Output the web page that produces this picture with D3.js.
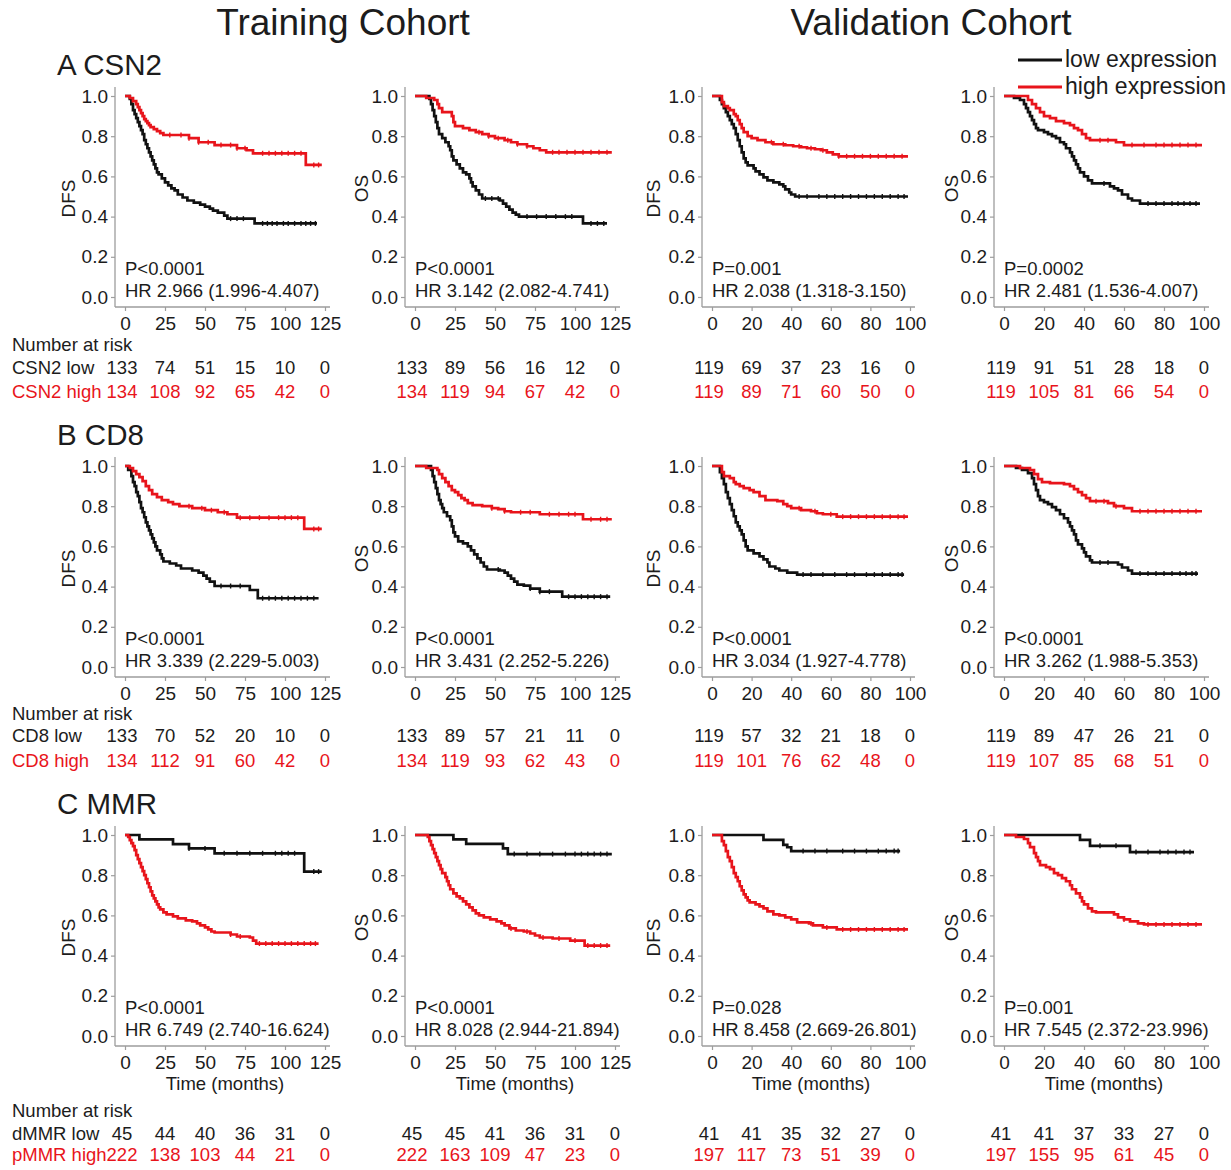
<!DOCTYPE html>
<html>
<head>
<meta charset="utf-8">
<script src="https://cdn.jsdelivr.net/npm/d3@7"></script>
<style>
  body { margin: 0; background: #fff; }
  svg { display: block; font-family: "Liberation Sans", Arial, sans-serif; }
</style>
</head>
<body>
<svg id="km" width="1231" height="1170"></svg>
<script>
// ---- labels
const cohorts = ["Training Cohort", "Validation Cohort"];
const markerTitles = ["A CSN2", "B CD8", "C MMR"];
const endpoints = ["DFS", "OS", "DFS", "OS"];
const legendLabels = ["low expression", "high expression"];
const riskLabels = [["CSN2 low", "CSN2 high"], ["CD8 low", "CD8 high"], ["dMMR low", "pMMR high"]];
const trainTicks = [0, 25, 50, 75, 100, 125];
const valTicks = [0, 20, 40, 60, 80, 100];
const yTicks = [0, 0.2, 0.4, 0.6, 0.8, 1.0];

const pLabels = [
  "P<0.0001", "P<0.0001", "P=0.001", "P=0.0002",
  "P<0.0001", "P<0.0001", "P<0.0001", "P<0.0001",
  "P<0.0001", "P<0.0001", "P=0.028", "P=0.001"
];
const hrLabels = [
  "HR 2.966 (1.996-4.407)", "HR 3.142 (2.082-4.741)", "HR 2.038 (1.318-3.150)", "HR 2.481 (1.536-4.007)",
  "HR 3.339 (2.229-5.003)", "HR 3.431 (2.252-5.226)", "HR 3.034 (1.927-4.778)", "HR 3.262 (1.988-5.353)",
  "HR 6.749 (2.740-16.624)", "HR 8.028 (2.944-21.894)", "HR 8.458 (2.669-26.801)", "HR 7.545 (2.372-23.996)"
];

// ---- number at risk
const riskLow = [
  [133, 74, 51, 15, 10, 0], [133, 89, 56, 16, 12, 0], [119, 69, 37, 23, 16, 0], [119, 91, 51, 28, 18, 0],
  [133, 70, 52, 20, 10, 0], [133, 89, 57, 21, 11, 0], [119, 57, 32, 21, 18, 0], [119, 89, 47, 26, 21, 0],
  [45, 44, 40, 36, 31, 0], [45, 45, 41, 36, 31, 0], [41, 41, 35, 32, 27, 0], [41, 41, 37, 33, 27, 0]
];
const riskHigh = [
  [134, 108, 92, 65, 42, 0], [134, 119, 94, 67, 42, 0], [119, 89, 71, 60, 50, 0], [119, 105, 81, 66, 54, 0],
  [134, 112, 91, 60, 42, 0], [134, 119, 93, 62, 43, 0], [119, 101, 76, 62, 48, 0], [119, 107, 85, 68, 51, 0],
  [222, 138, 103, 44, 21, 0], [222, 163, 109, 47, 23, 0], [197, 117, 73, 51, 39, 0], [197, 155, 95, 61, 45, 0]
];

// ---- KM curves [month, survival]
const csn2DfsTrLow = [[0,1],[3,0.985],[4,0.96],[5,0.93],[6,0.91],[7,0.89],[8,0.87],[9,0.85],[10,0.83],[11,0.81],[12,0.78],[13,0.76],[14,0.74],[15,0.72],[16,0.70],[17,0.68],[18,0.66],[19,0.64],[20,0.62],[21,0.61],[23,0.59],[25,0.57],[27,0.555],[29,0.54],[31,0.53],[33,0.51],[36,0.495],[39,0.48],[43,0.47],[47,0.46],[50,0.45],[53,0.44],[55,0.43],[58,0.42],[62,0.405],[64,0.39],[81,0.366],[120,0.366]];
const csn2DfsTrHigh = [[0,1],[3,0.99],[5,0.975],[7,0.96],[8,0.945],[9,0.93],[10,0.915],[11,0.9],[12,0.885],[13,0.875],[14,0.865],[15,0.855],[16,0.845],[18,0.835],[20,0.825],[22,0.815],[24,0.806],[40,0.79],[46,0.77],[56,0.756],[70,0.74],[76,0.73],[80,0.715],[113,0.657],[123,0.657]];
const csn2OsTrLow = [[0,1],[9,0.985],[10,0.96],[11,0.93],[12,0.9],[13,0.87],[14,0.84],[15,0.81],[17,0.79],[19,0.77],[21,0.75],[22,0.73],[23,0.7],[24,0.68],[26,0.66],[28,0.64],[30,0.62],[32,0.61],[34,0.59],[35,0.57],[36,0.55],[38,0.53],[40,0.51],[42,0.49],[53,0.48],[55,0.465],[57,0.45],[59,0.435],[61,0.42],[63,0.41],[65,0.40],[105,0.366],[120,0.366]];
const csn2OsTrHigh = [[0,1],[7,0.99],[12,0.98],[14,0.96],[15,0.94],[17,0.92],[23,0.9],[24,0.87],[25,0.85],[30,0.84],[34,0.83],[38,0.82],[42,0.81],[46,0.8],[50,0.79],[56,0.78],[60,0.77],[64,0.76],[70,0.75],[74,0.74],[78,0.73],[82,0.72],[123,0.72]];
const csn2DfsValLow = [[0,1],[4,0.98],[5,0.96],[6,0.94],[7,0.92],[8,0.9],[9,0.88],[10,0.86],[11,0.84],[12,0.81],[13,0.78],[14,0.75],[15,0.72],[16,0.69],[17,0.67],[18,0.655],[21,0.64],[22,0.625],[24,0.61],[26,0.595],[28,0.58],[31,0.57],[34,0.56],[36,0.55],[37,0.535],[39,0.52],[40,0.51],[42,0.5],[99,0.5]];
const csn2DfsValHigh = [[0,1],[5,0.97],[6,0.95],[8,0.94],[9,0.93],[11,0.91],[12,0.9],[13,0.88],[14,0.86],[15,0.84],[16,0.82],[18,0.8],[20,0.79],[23,0.78],[27,0.77],[31,0.76],[37,0.755],[41,0.75],[45,0.745],[48,0.74],[52,0.735],[55,0.73],[58,0.72],[61,0.71],[64,0.70],[99,0.70]];
const csn2OsValLow = [[0,1],[5,0.99],[8,0.98],[10,0.96],[11,0.94],[12,0.92],[13,0.9],[14,0.88],[15,0.86],[16,0.84],[17,0.83],[20,0.82],[22,0.81],[24,0.8],[26,0.79],[28,0.77],[30,0.76],[31,0.74],[33,0.72],[34,0.70],[35,0.68],[36,0.66],[37,0.64],[38,0.62],[40,0.60],[42,0.58],[44,0.565],[53,0.55],[55,0.54],[57,0.53],[59,0.51],[62,0.49],[64,0.48],[68,0.465],[98,0.465]];
const csn2OsValHigh = [[0,1],[12,0.98],[14,0.96],[16,0.94],[18,0.92],[20,0.9],[23,0.89],[26,0.875],[30,0.865],[33,0.855],[35,0.84],[37,0.83],[39,0.81],[41,0.79],[43,0.78],[56,0.77],[60,0.756],[99,0.756]];

const cd8DfsTrLow = [[0,1],[2,0.98],[4,0.95],[5,0.92],[6,0.9],[7,0.87],[8,0.85],[9,0.82],[10,0.79],[11,0.77],[12,0.745],[13,0.72],[14,0.70],[15,0.68],[16,0.66],[17,0.64],[18,0.62],[19,0.60],[20,0.58],[22,0.56],[23,0.54],[24,0.525],[28,0.515],[32,0.505],[35,0.49],[42,0.48],[46,0.47],[49,0.455],[51,0.44],[53,0.425],[56,0.403],[78,0.383],[83,0.342],[121,0.342]];
const cd8DfsTrHigh = [[0,1],[3,0.99],[5,0.975],[7,0.96],[9,0.945],[11,0.925],[13,0.9],[15,0.88],[17,0.86],[20,0.845],[23,0.83],[27,0.82],[30,0.81],[34,0.80],[42,0.79],[50,0.78],[58,0.77],[64,0.76],[70,0.743],[112,0.687],[123,0.687]];
const cd8OsTrLow = [[0,1],[10,0.98],[11,0.95],[12,0.92],[13,0.89],[14,0.86],[15,0.83],[16,0.81],[17,0.79],[18,0.77],[20,0.75],[22,0.73],[23,0.70],[24,0.67],[25,0.65],[27,0.625],[30,0.615],[33,0.6],[35,0.58],[37,0.56],[39,0.54],[41,0.52],[43,0.50],[45,0.485],[53,0.48],[56,0.47],[58,0.455],[60,0.44],[62,0.425],[64,0.41],[68,0.405],[72,0.39],[78,0.375],[92,0.35],[122,0.35]];
const cd8OsTrHigh = [[0,1],[7,0.99],[14,0.98],[15,0.96],[17,0.94],[19,0.92],[21,0.9],[23,0.88],[25,0.87],[27,0.855],[29,0.84],[31,0.83],[33,0.815],[36,0.805],[42,0.8],[48,0.79],[52,0.785],[56,0.775],[60,0.77],[78,0.76],[105,0.735],[123,0.735]];
const cd8DfsValLow = [[0,1],[4,0.97],[5,0.94],[6,0.91],[7,0.87],[8,0.84],[9,0.81],[10,0.78],[11,0.75],[12,0.72],[13,0.70],[14,0.68],[15,0.66],[16,0.63],[17,0.60],[18,0.58],[21,0.565],[24,0.55],[26,0.535],[28,0.52],[29,0.50],[32,0.49],[34,0.48],[38,0.47],[43,0.46],[97,0.46]];
const cd8DfsValHigh = [[0,1],[5,0.97],[6,0.95],[9,0.94],[11,0.92],[12,0.91],[14,0.9],[16,0.89],[19,0.88],[21,0.87],[24,0.85],[27,0.83],[33,0.825],[36,0.81],[38,0.8],[40,0.79],[45,0.78],[50,0.775],[53,0.765],[56,0.76],[63,0.748],[99,0.748]];
const cd8OsValLow = [[0,1],[6,0.99],[9,0.98],[12,0.965],[14,0.94],[15,0.91],[16,0.88],[17,0.85],[18,0.83],[20,0.82],[22,0.81],[24,0.795],[26,0.78],[28,0.76],[30,0.74],[32,0.72],[33,0.70],[34,0.68],[35,0.66],[36,0.63],[37,0.61],[39,0.59],[40,0.57],[41,0.55],[43,0.53],[44,0.52],[57,0.51],[59,0.495],[62,0.48],[64,0.465],[97,0.465]];
const cd8OsValHigh = [[0,1],[8,0.99],[13,0.98],[15,0.96],[17,0.935],[19,0.92],[23,0.915],[30,0.91],[33,0.9],[35,0.885],[37,0.87],[39,0.855],[41,0.84],[43,0.825],[52,0.815],[55,0.80],[60,0.79],[64,0.775],[99,0.775]];

const mmrDfsTrLow = [[0,1],[9,0.978],[30,0.955],[40,0.933],[56,0.909],[112,0.818],[123,0.818]];
const mmrDfsTrHigh = [[0,1],[2,0.99],[3,0.975],[4,0.96],[5,0.945],[6,0.925],[7,0.9],[8,0.88],[9,0.86],[10,0.84],[11,0.82],[12,0.80],[13,0.78],[14,0.76],[15,0.74],[16,0.72],[17,0.70],[18,0.685],[19,0.67],[20,0.655],[21,0.64],[22,0.63],[24,0.615],[26,0.605],[30,0.595],[33,0.585],[38,0.575],[42,0.57],[45,0.56],[47,0.55],[50,0.54],[52,0.53],[54,0.52],[56,0.515],[66,0.505],[70,0.495],[78,0.49],[80,0.475],[82,0.46],[121,0.46]];
const mmrOsTrLow = [[0,1],[24,0.978],[32,0.956],[55,0.933],[58,0.905],[123,0.905]];
const mmrOsTrHigh = [[0,1],[8,0.99],[9,0.97],[10,0.95],[11,0.93],[12,0.91],[13,0.89],[14,0.87],[15,0.85],[16,0.83],[17,0.81],[19,0.79],[20,0.77],[21,0.75],[22,0.73],[24,0.71],[26,0.695],[28,0.685],[30,0.67],[32,0.655],[34,0.64],[36,0.625],[38,0.61],[40,0.6],[43,0.59],[47,0.58],[51,0.57],[54,0.56],[56,0.55],[59,0.535],[63,0.525],[68,0.52],[72,0.51],[75,0.50],[78,0.49],[86,0.485],[97,0.475],[106,0.45],[122,0.45]];
const mmrDfsValLow = [[0,1],[26,0.976],[36,0.951],[38,0.939],[40,0.92],[95,0.92]];
const mmrDfsValHigh = [[0,1],[5,0.97],[6,0.95],[7,0.92],[8,0.89],[9,0.87],[10,0.84],[11,0.81],[12,0.79],[13,0.77],[14,0.745],[15,0.725],[16,0.705],[17,0.69],[18,0.675],[19,0.665],[22,0.655],[24,0.645],[26,0.635],[28,0.62],[31,0.605],[34,0.6],[37,0.59],[40,0.58],[43,0.565],[49,0.56],[51,0.55],[56,0.54],[63,0.53],[99,0.53]];
const mmrOsValLow = [[0,1],[38,0.976],[43,0.946],[63,0.915],[95,0.915]];
const mmrOsValHigh = [[0,1],[6,0.99],[10,0.98],[12,0.96],[13,0.94],[15,0.91],[16,0.89],[17,0.87],[18,0.85],[21,0.84],[23,0.83],[25,0.81],[27,0.8],[29,0.785],[31,0.77],[33,0.75],[34,0.73],[36,0.71],[38,0.69],[39,0.67],[40,0.655],[42,0.635],[44,0.62],[46,0.615],[55,0.605],[57,0.59],[60,0.58],[63,0.57],[67,0.56],[70,0.555],[99,0.555]];

// censor times (months)
const censLow = [
  [66,70,74,86,89,92,95,99,102,106,110,113,116,119],
  [44,48,52,70,76,82,88,94,98,110,114,118],
  [44,48,54,58,62,66,70,74,78,82,86,90,94,97],
  [50,72,76,80,84,87,90,93,96],
  [60,66,72,86,90,94,98,102,106,110,114,118],
  [52,72,78,84,96,100,104,108,112,116,120],
  [46,50,56,62,68,72,78,82,86,90,94,96],
  [48,52,68,72,76,80,84,88,91,94,96],
  [40,50,62,70,78,86,94,98,102,106,118,121],
  [62,70,78,86,94,100,104,108,112,116,120],
  [46,52,58,66,72,78,84,88,92,94],
  [48,56,66,72,78,82,86,90,93]
];
const censHigh = [
  [28,35,40,46,52,60,66,70,75,86,90,94,98,102,106,110,118,121],
  [40,46,52,58,64,70,86,90,95,100,105,110,115,120],
  [30,36,44,50,56,64,68,72,76,80,84,88,92,96],
  [48,52,64,70,76,80,84,88,92,96],
  [40,48,54,62,72,78,84,90,96,100,104,108,118,121],
  [48,56,66,72,84,90,96,100,110,116,120],
  [44,52,60,66,70,74,78,82,86,90,94,97],
  [46,50,56,68,72,76,80,84,88,92,96],
  [66,72,84,88,92,96,100,104,108,112,116,119],
  [60,70,80,90,100,108,112,116,120],
  [50,58,66,70,74,78,82,86,90,94,97],
  [60,72,76,80,84,88,92,96]
];

const curvesLow = [csn2DfsTrLow, csn2OsTrLow, csn2DfsValLow, csn2OsValLow,
  cd8DfsTrLow, cd8OsTrLow, cd8DfsValLow, cd8OsValLow,
  mmrDfsTrLow, mmrOsTrLow, mmrDfsValLow, mmrOsValLow];
const curvesHigh = [csn2DfsTrHigh, csn2OsTrHigh, csn2DfsValHigh, csn2OsValHigh,
  cd8DfsTrHigh, cd8OsTrHigh, cd8DfsValHigh, cd8OsValHigh,
  mmrDfsTrHigh, mmrOsTrHigh, mmrDfsValHigh, mmrOsValHigh];

// ---- layout
const BLACK = "#111", RED = "#e8141b", AXIS = "#9d9d9d", TXT = "#1c1c1c";
const colAxisX = [115, 405, 702, 994];
const colX0 = [125, 415, 712, 1004];
const colX1 = [325, 615, 910, 1204];
const colMax = [125, 125, 100, 100];
const ylabOff = [40, 37, 42, 36];
const rowY1 = [96, 466, 835];
const rowY0 = [297, 667, 1036];
const riskOff = [[54, 77, 101], [53, 75, 100], [81, 104, 125]];
const FS = 18.5;

const svg = d3.select("#km");
svg.append("rect").attr("width", 1231).attr("height", 1170).attr("fill", "#fff");

// cohort titles
svg.append("text").attr("x", 343).attr("y", 35).attr("text-anchor", "middle")
  .attr("font-size", 37).attr("fill", TXT).text(cohorts[0]);
svg.append("text").attr("x", 931).attr("y", 35).attr("text-anchor", "middle")
  .attr("font-size", 37).attr("fill", TXT).text(cohorts[1]);

// legend
[BLACK, RED].forEach((c, i) => {
  const ly = 60 + i * 27;
  svg.append("line").attr("x1", 1018).attr("x2", 1062).attr("y1", ly).attr("y2", ly)
    .attr("stroke", c).attr("stroke-width", 3);
  svg.append("text").attr("x", 1065).attr("y", ly + 7).attr("font-size", 23)
    .attr("fill", TXT).text(legendLabels[i]);
});

function survAt(curve, t) {
  const i = d3.bisector(d => d[0]).right(curve, t) - 1;
  return curve[Math.max(0, i)][1];
}

for (let r = 0; r < 3; r++) {
  svg.append("text").attr("x", 57).attr("y", rowY1[r] - 21).attr("font-size", 29.5)
    .attr("fill", TXT).text(markerTitles[r]);

  for (let c = 0; c < 4; c++) {
    const k = r * 4 + c;
    const x = d3.scaleLinear().domain([0, colMax[c]]).range([colX0[c], colX1[c]]);
    const y = d3.scaleLinear().domain([0, 1]).range([rowY0[r], rowY1[r]]);
    const g = svg.append("g");
    const ticks = c < 2 ? trainTicks : valTicks;

    // axes
    const ya = g.append("g").attr("transform", `translate(${colAxisX[c]},0)`)
      .call(d3.axisLeft(y).tickValues(yTicks).tickFormat(d3.format(".1f")).tickSize(4).tickPadding(3));
    const xa = g.append("g").attr("transform", `translate(0,${rowY0[r] + 10})`)
      .call(d3.axisBottom(x).tickValues(ticks).tickSize(4).tickPadding(6));
    [ya, xa].forEach(a => {
      a.select(".domain").remove();
      a.selectAll("line").attr("stroke", AXIS).attr("stroke-width", 1.2);
      a.selectAll("text").attr("font-size", 19).attr("fill", TXT)
        .attr("font-family", "Liberation Sans, Arial, sans-serif");
    });
    g.append("line").attr("x1", colAxisX[c]).attr("x2", colAxisX[c])
      .attr("y1", rowY1[r] - 9).attr("y2", rowY0[r] + 10).attr("stroke", AXIS).attr("stroke-width", 1.3);
    g.append("line").attr("x1", colAxisX[c]).attr("x2", colX1[c] + 5)
      .attr("y1", rowY0[r] + 10).attr("y2", rowY0[r] + 10).attr("stroke", AXIS).attr("stroke-width", 1.3);

    // y label
    const ymid = (rowY0[r] + rowY1[r]) / 2 + (endpoints[c] === "OS" ? -8 : 2);
    g.append("text").attr("transform", `translate(${colAxisX[c] - ylabOff[c]},${ymid}) rotate(-90)`)
      .attr("text-anchor", "middle").attr("font-size", FS + 0.5).attr("fill", TXT).text(endpoints[c]);

    // curves (low first, high on top)
    const line = d3.line().x(d => x(d[0])).y(d => y(d[1])).curve(d3.curveStepAfter);
    [[curvesLow[k], censLow[k], BLACK], [curvesHigh[k], censHigh[k], RED]]
      .forEach(([cv, cens, col]) => {
        g.append("path").attr("d", line(cv)).attr("fill", "none")
          .attr("stroke", col).attr("stroke-width", 2.7);
        g.selectAll(null).data(cens).enter().append("line")
          .attr("x1", d => x(d)).attr("x2", d => x(d))
          .attr("y1", d => y(survAt(cv, d)) - 2.5).attr("y2", d => y(survAt(cv, d)) + 2.5)
          .attr("stroke", col).attr("stroke-width", 1.4);
      });

    // stats
    g.append("text").attr("x", colX0[c]).attr("y", rowY0[r] - 22).attr("font-size", FS)
      .attr("fill", TXT).text(pLabels[k]);
    g.append("text").attr("x", colX0[c]).attr("y", rowY0[r]).attr("font-size", FS)
      .attr("fill", TXT).text(hrLabels[k]);

    // time label on bottom row
    if (r === 2) {
      g.append("text").attr("x", (colX0[c] + colX1[c]) / 2).attr("y", rowY0[r] + 54)
        .attr("text-anchor", "middle").attr("font-size", FS).attr("fill", TXT).text("Time (months)");
    }

    // number at risk
    const off = riskOff[r];
    if (c === 0) {
      g.append("text").attr("x", 12).attr("y", rowY0[r] + off[0]).attr("font-size", FS)
        .attr("fill", TXT).text("Number at risk");
      g.append("text").attr("x", 12).attr("y", rowY0[r] + off[1]).attr("font-size", FS)
        .attr("fill", TXT).text(riskLabels[r][0]);
      g.append("text").attr("x", 12).attr("y", rowY0[r] + off[2]).attr("font-size", FS)
        .attr("fill", RED).text(riskLabels[r][1]);
    }
    [[riskLow[k], off[1], TXT], [riskHigh[k], off[2], RED]].forEach(([vals, dy, col]) => {
      g.selectAll(null).data(vals).enter().append("text")
        .attr("x", (d, i) => x(ticks[i]) - (i === 0 ? 3 : 0))
        .attr("y", rowY0[r] + dy).attr("text-anchor", "middle")
        .attr("font-size", FS).attr("fill", col).text(d => d);
    });
  }
}
</script>
</body>
</html>
